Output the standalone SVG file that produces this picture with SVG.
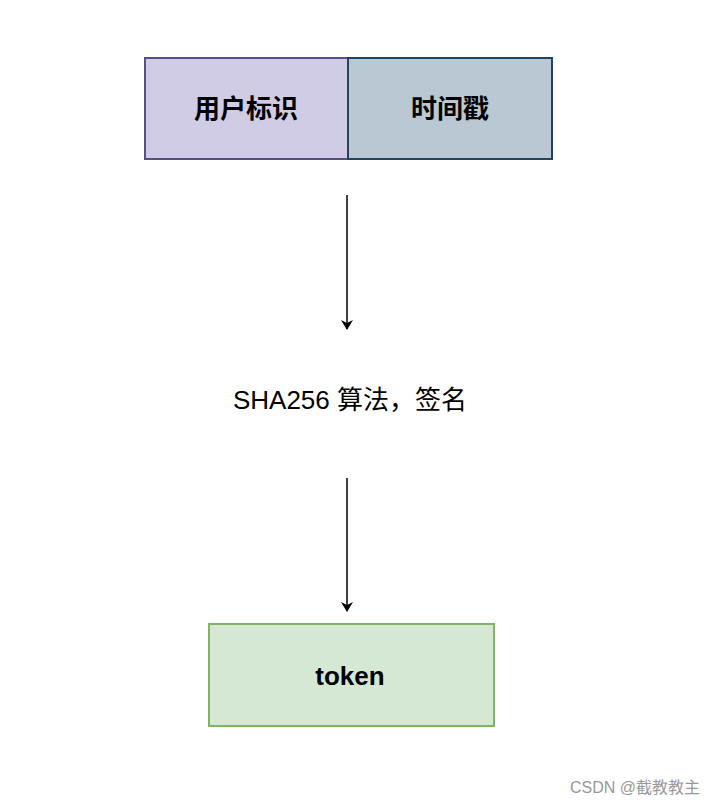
<svg xmlns="http://www.w3.org/2000/svg" width="716" height="810" viewBox="0 0 716 810">
<style>
.lbl{font-family:"Liberation Sans","Noto Sans CJK SC",sans-serif;font-weight:bold;font-size:26px;fill:#000;text-anchor:middle;dominant-baseline:central}
.edge{stroke:#000;stroke-width:1.5;fill:none;marker-end:url(#ah)}
</style>
<defs><marker id="ah" markerWidth="10" markerHeight="12" refX="9" refY="6" orient="auto" markerUnits="userSpaceOnUse"><path d="M0,0 L10,6 L0,12 L3,6 Z" fill="#000"/></marker></defs>
<rect width="716" height="810" fill="#fff"/>
<g id="user"><rect x="145" y="58" width="203" height="101" fill="#d0cce6" stroke="#56517e" stroke-width="2"/><text class="lbl" x="246" y="109">用户标识</text></g>
<g id="time"><rect x="348" y="58" width="204" height="101" fill="#bac8d3" stroke="#23445d" stroke-width="2"/><text class="lbl" x="450" y="109">时间戳</text></g>
<g id="sha"><text x="350" y="400" font-family="Liberation Sans,'Noto Sans CJK SC',sans-serif" font-size="26" text-anchor="middle" dominant-baseline="central">SHA256 算法，签名</text></g>
<g id="token"><rect x="209" y="624" width="285" height="102" fill="#d5e8d4" stroke="#82b366" stroke-width="2"/><text class="lbl" x="350" y="676">token</text></g>
<g id="connectors"><line class="edge" x1="347" y1="195" x2="347" y2="329"/><line class="edge" x1="347" y1="478" x2="347" y2="611"/></g>
<text x="700" y="793" font-family="Liberation Sans,'Noto Sans CJK SC',sans-serif" font-size="16" fill="#999" text-anchor="end">CSDN @截教教主</text>
</svg>
